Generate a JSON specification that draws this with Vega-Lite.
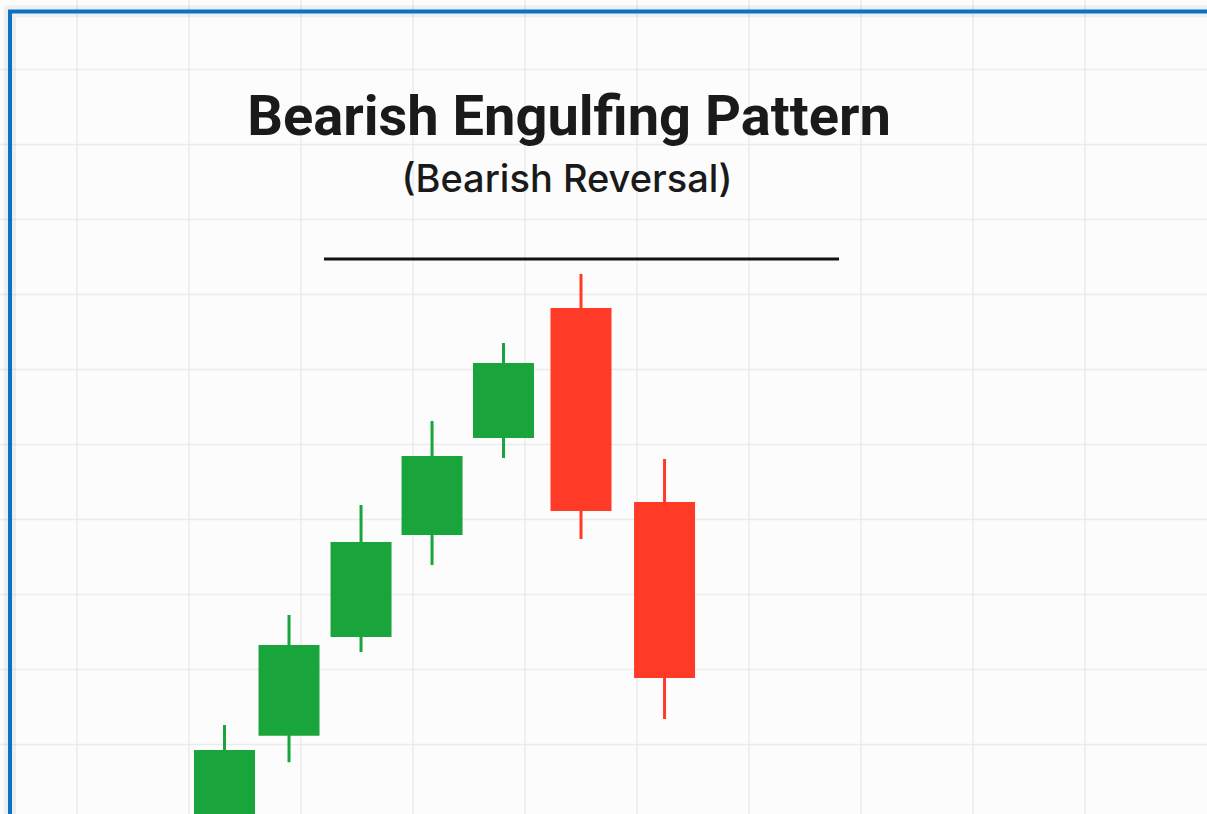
{
  "$schema": "https://vega.github.io/schema/vega-lite/v6.json",
  "width": 1207,
  "height": 814,
  "autosize": "none",
  "padding": 0,
  "background": "#fcfcfc",
  "config": {"view": {"stroke": null}},
  "datasets": {
    "candles": [
      {"t": 1.317, "open": -3, "high": 12.6, "low": -6, "close": 9.27},
      {"t": 1.893, "open": 11.17, "high": 27.27, "low": 7.63, "close": 23.27},
      {"t": 2.536, "open": 24.33, "high": 41.93, "low": 22.33, "close": 37.0},
      {"t": 3.17, "open": 37.93, "high": 53.13, "low": 33.93, "close": 48.47},
      {"t": 3.808, "open": 50.87, "high": 63.53, "low": 48.2, "close": 60.87},
      {"t": 4.5, "open": 68.2, "high": 72.73, "low": 37.4, "close": 41.13},
      {"t": 5.246, "open": 42.33, "high": 48.07, "low": 13.4, "close": 18.87}
    ],
    "gridx": [{"v": 0}, {"v": 1}, {"v": 2}, {"v": 3}, {"v": 4}, {"v": 5}, {"v": 6}, {"v": 7}, {"v": 8}, {"v": 9}],
    "gridy": [{"v": 10}, {"v": 20}, {"v": 30}, {"v": 40}, {"v": 50}, {"v": 60}, {"v": 70}, {"v": 80}, {"v": 90}, {"v": 100}],
    "one": [{"k": 1}]
  },
  "resolve": {"scale": {"x": "shared", "y": "shared"}},
  "layer": [
    {
      "data": {"name": "gridx"},
      "mark": {"type": "rule", "color": "#ebebeb", "strokeWidth": 1.5},
      "encoding": {
        "x": {"field": "v", "type": "quantitative", "axis": null,
          "scale": {"domain": [-0.6875, 10.0893], "nice": false, "zero": false, "padding": 0}}
      }
    },
    {
      "data": {"name": "gridy"},
      "mark": {"type": "rule", "color": "#ebebeb", "strokeWidth": 1.5},
      "encoding": {
        "y": {"field": "v", "type": "quantitative", "axis": null,
          "scale": {"domain": [0.7333, 109.2667], "nice": false, "zero": false, "padding": 0}}
      }
    },
    {
      "data": {"name": "one"},
      "mark": {"type": "rect", "fill": null, "stroke": "#000000", "strokeOpacity": 0.05, "strokeWidth": 12, "clip": true},
      "encoding": {
        "x": {"datum": -0.598, "type": "quantitative", "axis": null},
        "x2": {"datum": 20},
        "y": {"datum": 107.73, "type": "quantitative", "axis": null},
        "y2": {"datum": -20}
      }
    },
    {
      "data": {"name": "one"},
      "mark": {"type": "rect", "fill": null, "stroke": "#0a72c4", "strokeWidth": 4, "clip": true},
      "encoding": {
        "x": {"datum": -0.598, "type": "quantitative", "axis": null},
        "x2": {"datum": 20},
        "y": {"datum": 107.73, "type": "quantitative", "axis": null},
        "y2": {"datum": -20}
      }
    },
    {
      "data": {"name": "candles"},
      "mark": {"type": "rule", "strokeWidth": 3, "clip": true},
      "encoding": {
        "x": {"field": "t", "type": "quantitative", "axis": null},
        "y": {"field": "low", "type": "quantitative", "axis": null},
        "y2": {"field": "high"},
        "color": {"condition": {"test": "datum.open < datum.close", "value": "#19a53b"}, "value": "#ff3a27"}
      }
    },
    {
      "data": {"name": "candles"},
      "mark": {"type": "bar", "size": 61, "clip": true},
      "encoding": {
        "x": {"field": "t", "type": "quantitative", "axis": null},
        "y": {"field": "open", "type": "quantitative", "axis": null},
        "y2": {"field": "close"},
        "color": {"condition": {"test": "datum.open < datum.close", "value": "#19a53b"}, "value": "#ff3a27"}
      }
    },
    {
      "data": {"name": "one"},
      "mark": {"type": "rule", "strokeWidth": 3, "color": "#111111"},
      "encoding": {
        "x": {"datum": 2.205, "type": "quantitative", "axis": null},
        "x2": {"datum": 6.804},
        "y": {"datum": 74.73, "type": "quantitative", "axis": null}
      }
    },
    {
      "data": {"name": "one"},
      "mark": {"type": "text", "text": "Bearish Engulfing Pattern", "font": "Roboto", "fontWeight": "bold", "fontSize": 56, "color": "#1a1a1a", "align": "center", "baseline": "alphabetic"},
      "encoding": {
        "x": {"datum": 4.393, "type": "quantitative", "axis": null},
        "y": {"datum": 91.27, "type": "quantitative", "axis": null}
      }
    },
    {
      "data": {"name": "one"},
      "mark": {"type": "text", "text": "(Bearish Reversal)", "font": "Inter", "fontWeight": 500, "fontSize": 38, "color": "#1a1a1a", "align": "center", "baseline": "alphabetic"},
      "encoding": {
        "x": {"datum": 4.375, "type": "quantitative", "axis": null},
        "y": {"datum": 83.71, "type": "quantitative", "axis": null}
      }
    }
  ]
}
